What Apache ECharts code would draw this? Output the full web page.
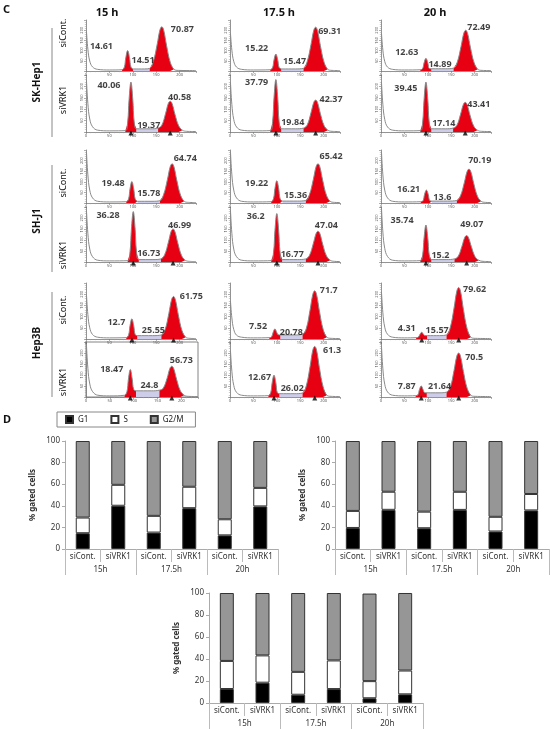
<!DOCTYPE html>
<html><head><meta charset="utf-8">
<script src="https://cdn.jsdelivr.net/npm/echarts@6/dist/echarts.min.js"></script>
<style>html,body{margin:0;padding:0;background:#fff}#c{width:550px;height:729px}</style>
</head><body><div id="c"></div>
<script>
// ---------- DATA ----------
const timeTitles = ['15 h', '17.5 h', '20 h'];
const cellLines = ['SK-Hep1', 'SH-J1', 'Hep3B'];
const conditions = ['siCont.', 'siVRK1'];
const barCats = ['siCont.', 'siVRK1', 'siCont.', 'siVRK1', 'siCont.', 'siVRK1'];
const barGroups = ['15h', '17.5h', '20h'];
const phases = ['G1', 'S', 'G2/M'];

// percentages, order: 15h siCont, 15h siVRK1, 17.5h siCont, 17.5h siVRK1, 20h siCont, 20h siVRK1
const skG1 = [14.61, 40.06, 15.22, 37.79, 12.63, 39.45];
const skS  = [14.51, 19.37, 15.47, 19.84, 14.89, 17.14];
const skG2 = [70.87, 40.58, 69.31, 42.37, 72.49, 43.41];
const shG1 = [19.48, 36.28, 19.22, 36.2, 16.21, 35.74];
const shS  = [15.78, 16.73, 15.36, 16.77, 13.6, 15.2];
const shG2 = [64.74, 46.99, 65.42, 47.04, 70.19, 49.07];
const h3G1 = [12.7, 18.47, 7.52, 12.67, 4.31, 7.87];
const h3S  = [25.55, 24.8, 20.78, 26.02, 15.57, 21.64];
const h3G2 = [61.75, 56.73, 71.7, 61.3, 79.62, 70.5];

// DNA-content histograms: [channel, count]
const sk15c  = [[1,195],[4,107],[8,49],[14,20],[25,8],[50,5],[77,6],[82,20],[85,65],[89,100],[93,65],[96,20],[101,10],[125,10],[136,13],[144,48],[152,130],[158,202],[162,217],[166,200],[172,126],[180,43],[188,8],[197,3],[235,2]];
const sk15v  = [[1,227],[4,125],[8,57],[14,23],[25,8],[50,5],[84,6],[89,44],[92,142],[96,219],[100,142],[103,44],[108,14],[138,14],[154,17],[162,30],[170,81],[176,126],[180,135],[184,124],[190,78],[198,27],[206,8],[215,3],[235,2]];
const sk175c = [[1,186],[4,102],[8,47],[14,19],[25,8],[50,5],[86,6],[91,17],[94,54],[98,83],[102,54],[105,17],[110,10],[140,10],[157,13],[165,47],[173,129],[179,200],[183,215],[187,198],[193,125],[201,43],[209,8],[218,3],[235,2]];
const sk175v = [[1,219],[4,120],[8,55],[14,22],[25,8],[50,5],[86,6],[91,46],[94,150],[98,230],[102,150],[105,46],[110,14],[140,14],[157,17],[165,31],[173,84],[179,130],[183,140],[187,129],[193,81],[201,28],[209,8],[218,3],[235,2]];
const sk20c  = [[1,186],[4,102],[8,47],[14,19],[25,8],[50,5],[84,6],[89,12],[92,40],[96,62],[100,40],[103,12],[108,11],[138,11],[155,14],[163,44],[171,120],[177,186],[181,200],[185,184],[191,116],[199,40],[207,8],[216,3],[235,2]];
const sk20v  = [[1,220],[4,121],[8,55],[14,22],[25,8],[50,5],[84,6],[89,44],[92,142],[96,219],[100,142],[103,44],[108,14],[138,14],[154,17],[162,29],[170,78],[176,121],[180,130],[184,120],[190,75],[198,26],[206,8],[215,3],[235,2]];
const sh15c  = [[1,242],[4,133],[8,61],[14,24],[25,8],[50,5],[86,6],[91,20],[94,66],[98,101],[102,66],[105,20],[110,8],[141,8],[158,11],[166,41],[174,111],[180,172],[184,185],[188,170],[194,107],[202,37],[210,8],[219,3],[235,2]];
const sh15v  = [[1,236],[4,130],[8,59],[14,24],[25,8],[50,5],[89,6],[94,46],[97,149],[101,229],[105,149],[108,46],[113,11],[143,11],[160,14],[168,33],[176,90],[182,140],[186,150],[190,138],[196,87],[204,30],[212,8],[221,3],[235,2]];
const sh175c = [[1,242],[4,133],[8,61],[14,24],[25,8],[50,5],[88,6],[93,21],[96,68],[100,105],[104,68],[107,21],[112,9],[144,9],[162,12],[170,41],[178,111],[184,172],[188,185],[192,170],[198,107],[206,37],[214,8],[223,3],[235,2]];
const sh175v = [[1,236],[4,130],[8,59],[14,24],[25,8],[50,5],[88,6],[93,44],[96,143],[100,220],[104,143],[107,44],[112,11],[144,11],[162,14],[170,31],[178,84],[184,130],[188,140],[192,129],[198,81],[206,28],[214,8],[223,3],[235,2]];
const sh20c  = [[1,242],[4,133],[8,61],[14,24],[25,8],[50,5],[85,6],[90,12],[93,40],[97,61],[101,40],[104,12],[109,9],[142,9],[162,12],[170,35],[178,96],[184,149],[188,160],[192,147],[198,93],[206,32],[214,8],[223,3],[235,2]];
const sh20v  = [[1,248],[4,136],[8,62],[14,25],[25,8],[50,5],[84,6],[89,34],[92,109],[96,168],[100,109],[103,34],[108,11],[139,11],[157,14],[165,26],[173,72],[179,112],[183,120],[187,110],[193,70],[201,24],[209,8],[218,3],[235,2]];
const h315c  = [[1,198],[4,109],[8,50],[14,20],[25,8],[50,5],[86,6],[91,18],[94,59],[98,90],[102,59],[105,20],[110,15],[142,15],[161,18],[169,42],[177,114],[183,177],[187,190],[191,175],[197,110],[205,38],[213,8],[222,3],[235,2]];
const h315v  = [[1,235],[4,129],[8,59],[14,24],[25,8],[50,5],[81,8],[86,25],[89,81],[93,125],[97,81],[100,35],[105,28],[137,28],[154,31],[162,40],[170,84],[176,130],[180,140],[184,129],[190,81],[198,28],[206,8],[215,3],[235,2]];
const h3175c = [[1,170],[4,94],[8,43],[14,17],[25,8],[50,5],[84,6],[89,10],[92,29],[96,45],[100,29],[103,19],[108,18],[138,18],[155,21],[163,47],[171,129],[177,200],[181,215],[185,198],[191,125],[199,43],[207,8],[216,3],[235,2]];
const h3175v = [[1,212],[4,117],[8,53],[14,21],[25,8],[50,5],[82,6],[87,20],[90,64],[94,99],[98,64],[101,20],[106,15],[137,15],[155,18],[163,51],[171,138],[177,214],[181,230],[185,212],[191,133],[199,46],[207,8],[216,3],[235,2]];
const h320c  = [[1,212],[4,117],[8,53],[14,21],[25,8],[50,5],[75,6],[80,9],[83,20],[87,30],[91,20],[94,15],[99,15],[125,15],[140,18],[148,51],[156,138],[162,214],[166,230],[170,212],[176,133],[184,46],[192,8],[201,3],[235,2]];
const h320v  = [[1,233],[4,128],[8,58],[14,23],[25,8],[50,5],[74,6],[79,10],[82,33],[86,50],[90,33],[93,20],[98,19],[124,19],[140,22],[148,44],[156,120],[162,186],[166,200],[170,184],[176,116],[184,40],[192,8],[201,3],[235,2]];

// ---------- STRUCTURE ----------
const histData = [
  [sk15c, sk175c, sk20c], [sk15v, sk175v, sk20v],
  [sh15c, sh175c, sh20c], [sh15v, sh175v, sh20v],
  [h315c, h3175c, h320c], [h315v, h3175v, h320v]
];
const g1Pct = [skG1, shG1, h3G1];
const sPct = [skS, shS, h3S];
const g2Pct = [skG2, shG2, h3G2];
// index ranges of phases inside each histogram curve
const phaseRange = { G1: [6, 13], S: [12, 15], G2: [14, 23] };
const peakIdx = [9, 18];

// ---------- LAYOUT ----------
const histCols = [86, 230, 381];
const histW = 110;
const histRows = [[20, 51], [75, 57], [150, 53], [207, 55], [283, 56], [342, 55]];
const framedPanel = '5-0';
const trianglePanels = ['1-0','1-1','1-2','3-0','3-1','3-2','4-0','4-2','5-0','5-1','5-2'];
// label anchors in (channel, count) coordinates for G1, S, G2/M labels
const labelAt = [
  [[[33,122],[122,54],[206,204]], [[57,111],[138,46],[213,193]], [[55,92],[126,34],[209,214]]],
  [[[49,205],[134,29],[200,153]], [[57,219],[134,40],[216,142]], [[53,190],[134,37],[209,121]]],
  [[[58,93],[134,46],[212,211]],  [[57,90],[140,38],[216,218]],  [[59,65],[131,27],[211,200]]],
  [[[47,213],[134,41],[200,168]], [[55,209],[133,36],[206,168]], [[45,191],[127,32],[194,171]]],
  [[[65,74],[144,38],[225,190]],  [[60,54],[131,28],[211,217]],  [[55,45],[120,38],[200,220]]],
  [[[54,125],[133,53],[200,164]], [[63,91],[133,39],[218,210]],  [[55,50],[125,48],[199,180]]]
];
const barGrids = [
  { left: 65, top: 441, width: 213, height: 108 },
  { left: 335, top: 441, width: 214, height: 108 },
  { left: 209, top: 593, width: 214, height: 110 }
];

const FONT = 'Noto Sans';
const RED = '#e60012';
const SFILL = '#cdcdea';
const phaseColors = ['#000000', '#ffffff', '#969696'];

const grid = [], xAxis = [], yAxis = [], series = [];

for (let r = 0; r < 6; r++) {
  for (let t = 0; t < 3; t++) {
    const gi = grid.length;
    const key = r + '-' + t;
    const framed = key === framedPanel;
    grid.push({ left: histCols[t], top: histRows[r][0], width: framed ? 112 : histW, height: histRows[r][1],
      show: framed, borderColor: '#666', borderWidth: 0.8 });
    xAxis.push({ gridIndex: gi, type: 'value', min: 0, max: 235, interval: 50,
      axisLine: { lineStyle: { color: '#777', width: 0.8 } },
      axisTick: { length: 2, lineStyle: { color: '#777', width: 0.6 } },
      minorTick: { show: true, splitNumber: 5, length: 1.2, lineStyle: { color: '#999', width: 0.5 } },
      axisLabel: { fontSize: 4, color: '#555', margin: 2, showMaxLabel: false },
      splitLine: { show: false } });
    yAxis.push({ gridIndex: gi, type: 'value', min: 0, max: 250, interval: 50,
      axisLine: { show: true, lineStyle: { color: '#777', width: 0.8 } },
      axisTick: { show: true, length: 2, lineStyle: { color: '#777', width: 0.6 } },
      minorTick: { show: true, splitNumber: 5, length: 1.2, lineStyle: { color: '#999', width: 0.5 } },
      axisLabel: { fontSize: 4, color: '#555', margin: 2, rotate: 90, showMinLabel: false, showMaxLabel: false },
      splitLine: { show: false } });
    const d = histData[r][t];
    const segs = [['G1', RED], ['S', SFILL], ['G2', RED]];
    segs.forEach(([ph, col]) => {
      series.push({ type: 'line', xAxisIndex: gi, yAxisIndex: gi, silent: true,
        data: d.slice(phaseRange[ph][0], phaseRange[ph][1]), smooth: 0.4, symbol: 'none',
        lineStyle: { width: 0 }, areaStyle: { color: col, opacity: 1 }, z: 2 });
    });
    series.push({ type: 'line', xAxisIndex: gi, yAxisIndex: gi, silent: true, data: d,
      smooth: 0.4, symbol: 'none', lineStyle: { color: '#8a8a8a', width: 1 }, z: 3 });
    if (trianglePanels.includes(key)) {
      series.push({ type: 'scatter', xAxisIndex: gi, yAxisIndex: gi, silent: true, clip: false,
        data: peakIdx.map(i => [d[i][0], 0]), symbol: 'triangle', symbolSize: 5,
        symbolOffset: [0, 1], itemStyle: { color: '#000' }, z: 4 });
    }
    const cl = Math.floor(r / 2), idx = t * 2 + (r % 2);
    const vals = [g1Pct[cl][idx], sPct[cl][idx], g2Pct[cl][idx]];
    series.push({ type: 'scatter', xAxisIndex: gi, yAxisIndex: gi, silent: true, clip: false,
      data: vals.map((v, k) => [labelAt[r][t][k][0], labelAt[r][t][k][1], String(v)]),
      symbolSize: 1, itemStyle: { color: 'rgba(0,0,0,0)' },
      label: { show: true, position: 'inside', formatter: p => p.value[2],
        fontFamily: FONT, fontWeight: 'bold', fontSize: 9, color: '#111' }, z: 5 });
  }
}

// ---------- BAR CHARTS ----------
barGrids.forEach((bg, k) => {
  const gi = grid.length;
  grid.push(bg);
  const xi = xAxis.length;
  xAxis.push({ gridIndex: gi, type: 'category', data: barCats, position: 'bottom', offset: 0,
    axisLine: { lineStyle: { color: '#aaa', width: 1 } },
    axisTick: { show: true, interval: 0, length: 13, lineStyle: { color: '#bbb' } },
    axisLabel: { interval: 0, fontSize: 8, color: '#333', margin: 4, fontFamily: FONT } });
  xAxis.push({ gridIndex: gi, type: 'category', data: barGroups, position: 'bottom', offset: 0,
    axisLine: { show: false },
    axisTick: { show: true, interval: 0, length: 26, lineStyle: { color: '#bbb' } },
    axisLabel: { interval: 0, fontSize: 8, color: '#333', margin: 17, fontFamily: FONT } });
  yAxis.push({ gridIndex: gi, type: 'value', min: 0, max: 100, interval: 20,
    name: '% gated cells', nameLocation: 'middle', nameGap: 28, nameRotate: 90,
    nameTextStyle: { fontSize: 8, fontWeight: 'bold', color: '#333', fontFamily: FONT },
    axisLine: { show: true, lineStyle: { color: '#aaa' } },
    axisTick: { show: true, length: 3, lineStyle: { color: '#aaa' } },
    axisLabel: { fontSize: 8, color: '#333', margin: 5, fontFamily: FONT },
    splitLine: { show: false } });
  const vals = [g1Pct[k], sPct[k], g2Pct[k]];
  phases.forEach((ph, p) => {
    series.push({ name: ph, type: 'bar', stack: 'st' + k, xAxisIndex: xi, yAxisIndex: gi,
      data: vals[p], barWidth: 14,
      itemStyle: { color: phaseColors[p], borderColor: '#333', borderWidth: 1 } });
  });
});

// ---------- TEXT / DECORATION ----------
const graphic = [];
const txt = (x, y, s, o = {}) => graphic.push({ type: 'text', x, y, rotation: o.rot || 0,
  style: { text: s, fontFamily: FONT, fontSize: o.size || 10, fontWeight: o.bold ? 'bold' : 'normal',
    fill: '#111', align: o.align || 'center', verticalAlign: 'middle' } });
txt(3, 10, 'C', { bold: true, size: 11, align: 'left' });
txt(3, 420, 'D', { bold: true, size: 11, align: 'left' });
const titleX = [107, 279, 435];
timeTitles.forEach((s, i) => txt(titleX[i], 13, s, { bold: true, size: 11 }));
const cellY = [82, 221, 343];
cellLines.forEach((s, i) => txt(37, cellY[i], s, { bold: true, size: 10, rot: Math.PI / 2 }));
const condY = [[33, 100], [183, 255], [310, 382]];
condY.forEach(pair => pair.forEach((y, c) => txt(63, y, conditions[c], { size: 9, rot: Math.PI / 2 })));
const sepLines = [[28, 137], [165, 272], [292, 397]];
sepLines.forEach(([a, b]) => graphic.push({ type: 'line', shape: { x1: 52, y1: a, x2: 52, y2: b },
  style: { stroke: '#888', lineWidth: 1 } }));

const chart = echarts.init(document.getElementById('c'), null, { renderer: 'canvas' });
chart.setOption({
  animation: false,
  backgroundColor: '#fff',
  textStyle: { fontFamily: FONT },
  grid, xAxis, yAxis, series, graphic,
  legend: { data: phases, left: 57, top: 412, icon: 'rect', itemWidth: 7, itemHeight: 7, itemGap: 22,
    borderColor: '#888', borderWidth: 1, padding: [3, 12, 3, 8], selectedMode: false,
    textStyle: { fontSize: 8, color: '#222', fontFamily: FONT } }
});
</script></body></html>
